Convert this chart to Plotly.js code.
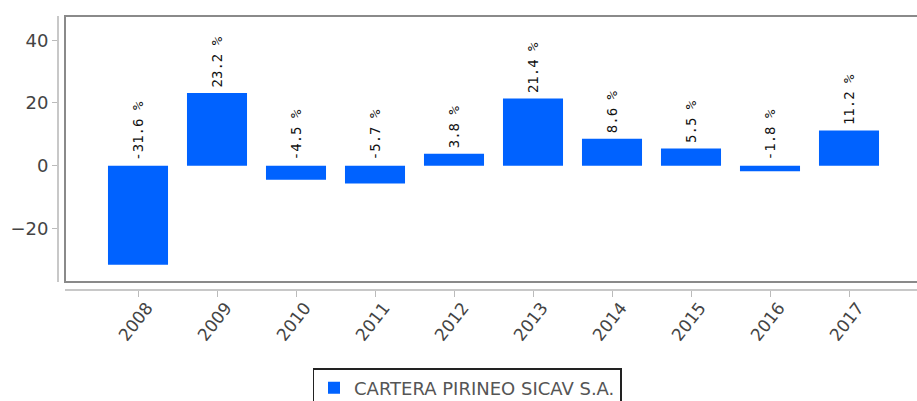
<!DOCTYPE html>
<html>
<head>
<meta charset="utf-8">
<script src="https://cdn.plot.ly/plotly-3.0.1.min.js"></script>
<style>
html, body { margin: 0; padding: 0; overflow: hidden; background: #fff; }
#chart { width: 930px; height: 401px; }
</style>
</head>
<body>
<div id="chart"></div>
<script>
const years = ['2008', '2009', '2010', '2011', '2012', '2013', '2014', '2015', '2016', '2017'];
const returns = [-31.6, 23.2, -4.5, -5.7, 3.8, 21.4, 8.6, 5.5, -1.8, 11.2];
const seriesName = 'CARTERA PIRINEO SICAV S.A.';
const yTicks = [-20, 0, 20, 40];

const trace = {
  type: 'bar',
  x: years,
  y: returns,
  name: seriesName,
  marker: { color: '#0062ff', line: { width: 0 } },
  hoverinfo: 'x+y',
  showlegend: true
};

// value labels above the zero line / bar top; x given as category index
const annotations = returns.map((v, i) => ({
  x: i,
  y: Math.max(v, 0),
  xref: 'x',
  yref: 'y',
  text: v.toFixed(1) + ' %',
  textangle: -90,
  showarrow: false,
  xanchor: 'center',
  yanchor: 'bottom',
  yshift: 3,
  font: { family: 'DejaVu Sans Mono', size: 14, color: '#111' }
}));

const layout = {
  width: 930,
  height: 401,
  margin: { l: 58, r: 8, t: 16, b: 111 },
  paper_bgcolor: '#fff',
  plot_bgcolor: '#fff',
  bargap: 0.24,
  showlegend: true,
  xaxis: {
    type: 'category',
    domain: [7 / 864, 1],
    anchor: 'free',
    position: 0,
    range: [-0.924, 9.924],
    showgrid: false,
    zeroline: false,
    showline: true,
    linecolor: '#c8c8c8',
    linewidth: 2,
    ticks: 'outside',
    ticklen: 6,
    tickcolor: '#bbb',
    tickwidth: 1,
    tickangle: -52,
    ticklabelshift: 9,
    ticklabelstandoff: -6,
    tickfont: { family: 'DejaVu Sans', size: 17, color: '#444' },
    fixedrange: true
  },
  yaxis: {
    domain: [8 / 274, 1],
    anchor: 'free',
    position: 0,
    range: [-37.1, 47.75],
    tickvals: yTicks,
    ticktext: yTicks.map(v => v < 0 ? '\u2212' + Math.abs(v) : String(v)),
    showgrid: false,
    zeroline: false,
    showline: true,
    linecolor: '#c8c8c8',
    linewidth: 2,
    ticks: 'outside',
    ticklen: 5,
    tickcolor: '#bbb',
    tickwidth: 1,
    tickfont: { family: 'DejaVu Sans', size: 18, color: '#444' },
    fixedrange: true
  },
  shapes: [{
    type: 'rect',
    xref: 'x domain',
    yref: 'y domain',
    x0: 0, x1: 1, y0: 0, y1: 1,
    line: { color: '#8a8a8a', width: 2 },
    layer: 'below'
  }],
  annotations: annotations,
  legend: {
    orientation: 'h',
    xref: 'container',
    yref: 'container',
    x: 467 / 930,
    xanchor: 'center',
    y: 1 - 368 / 401,
    yanchor: 'top',
    bordercolor: '#222',
    borderwidth: 1.5,
    bgcolor: '#fff',
    font: { family: 'DejaVu Sans', size: 18, color: '#555' }
  }
};

Plotly.newPlot('chart', [trace], layout, { displayModeBar: false, staticPlot: true });
</script>
</body>
</html>
